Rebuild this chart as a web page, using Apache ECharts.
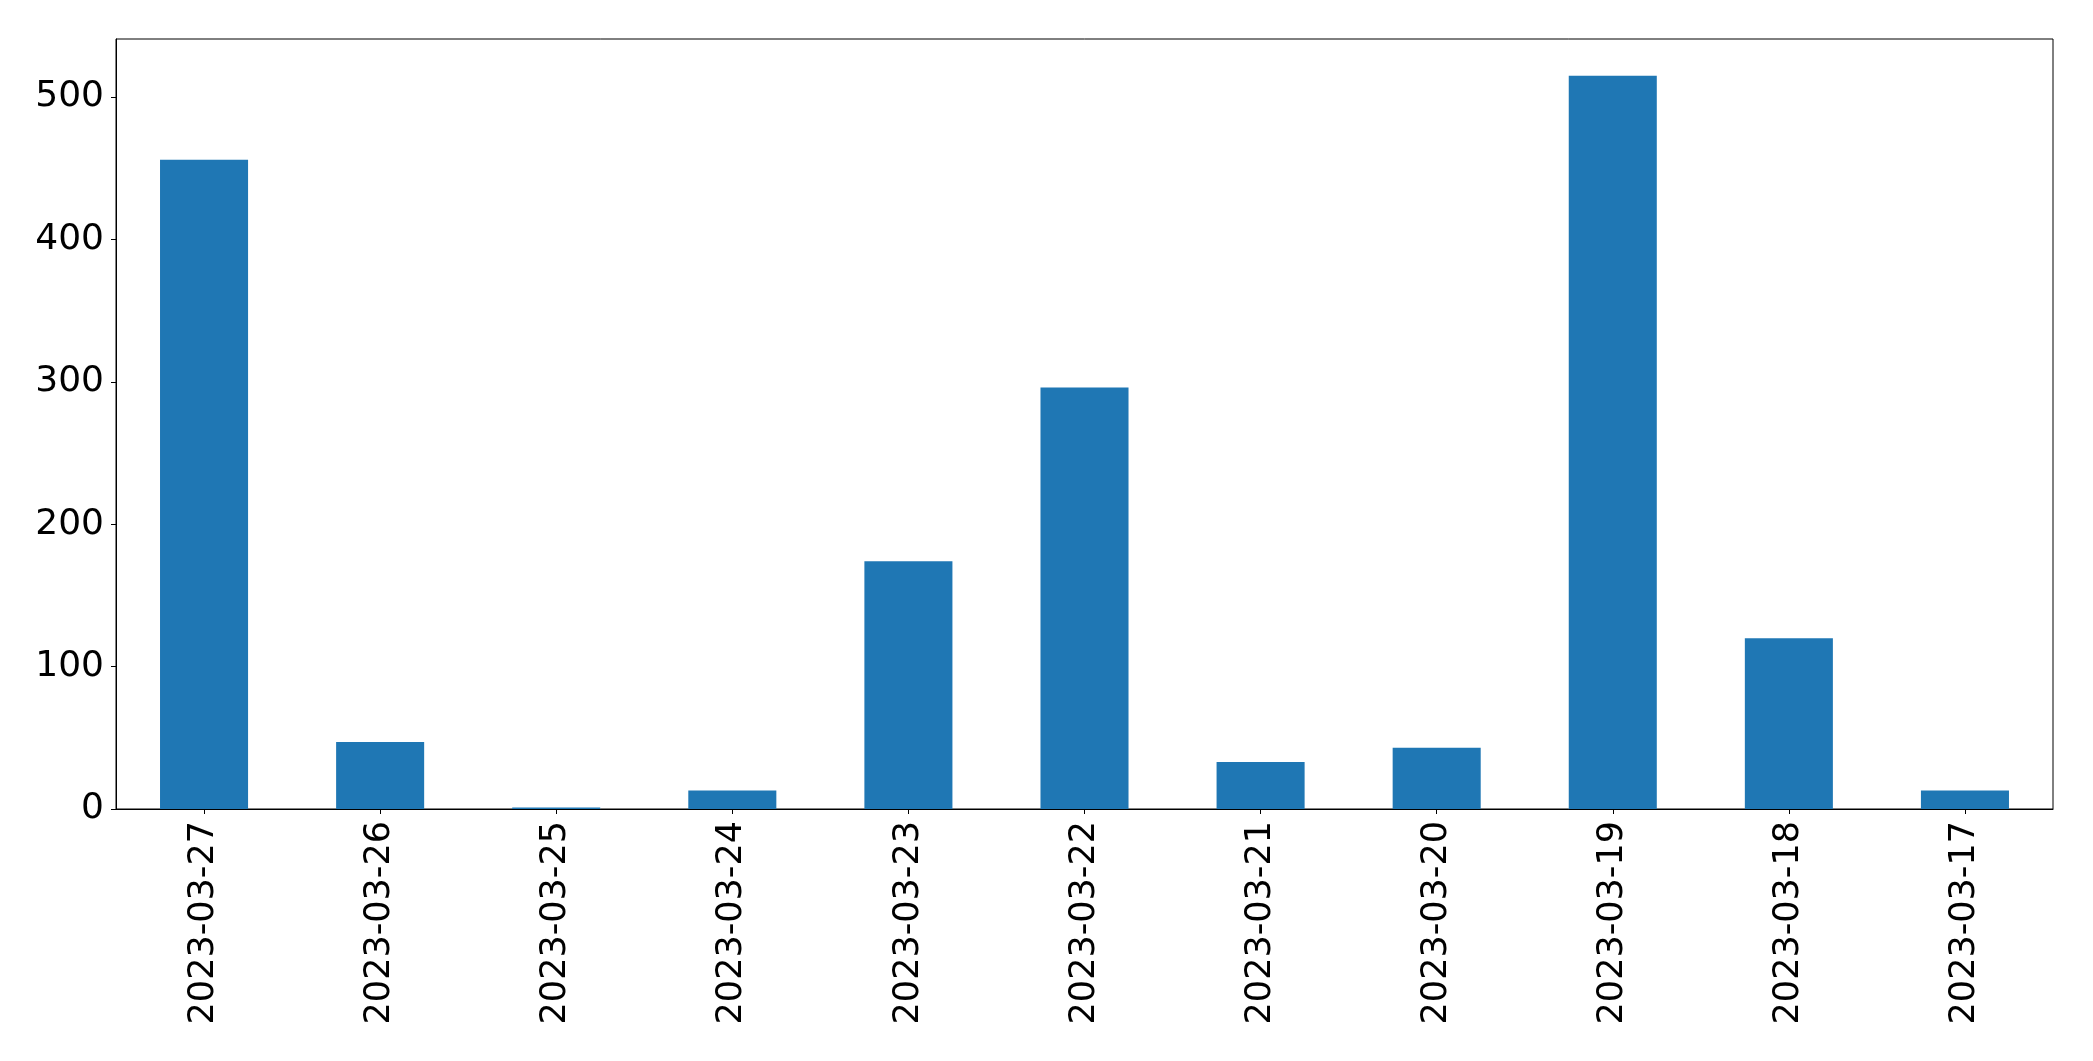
<!DOCTYPE html>
<html>
<head>
<meta charset="utf-8">
<script src="https://cdn.jsdelivr.net/npm/echarts@6/dist/echarts.min.js"></script>
<style>
html,body{margin:0;padding:0;background:#fff;}
#c{width:2093px;height:1061px;}
</style>
</head>
<body>
<div id="c"></div>
<script>
const categories = ["2023-03-27","2023-03-26","2023-03-25","2023-03-24","2023-03-23","2023-03-22","2023-03-21","2023-03-20","2023-03-19","2023-03-18","2023-03-17"];
const values = [456, 47, 1, 13, 174, 296, 33, 43, 515, 120, 13];
const yTicks = [0, 100, 200, 300, 400, 500];

const font = "'DejaVu Sans', sans-serif";
const chart = echarts.init(document.getElementById('c'), null, {renderer: 'canvas'});
chart.setOption({
  animation: false,
  backgroundColor: '#ffffff',
  grid: {
    left: 116, right: 40, top: 39, bottom: 252,
    show: true, borderColor: '#000', borderWidth: 1, backgroundColor: 'transparent'
  },
  xAxis: {
    type: 'category',
    data: categories,
    boundaryGap: true,
    axisLine: {show: true, lineStyle: {color: '#000', width: 1}},
    axisTick: {show: true, alignWithLabel: true, length: 5, lineStyle: {color: '#000', width: 1}},
    axisLabel: {rotate: 90, fontSize: 35, fontFamily: font, color: '#000', margin: 12, interval: 0}
  },
  yAxis: {
    type: 'value',
    min: 0,
    max: Math.max(...values) * 1.05,
    interval: 100,
    splitLine: {show: false},
    axisLine: {show: true, lineStyle: {color: '#000', width: 1}},
    axisTick: {show: true, length: 5, lineStyle: {color: '#000', width: 1}, customValues: yTicks},
    axisLabel: {fontSize: 36, fontFamily: font, color: '#000', margin: 12, padding: [6, 0, 0, 0], customValues: yTicks}
  },
  series: [{
    type: 'bar',
    data: values,
    barWidth: '50%',
    itemStyle: {color: '#1f77b4'}
  }]
});
</script>
</body>
</html>
